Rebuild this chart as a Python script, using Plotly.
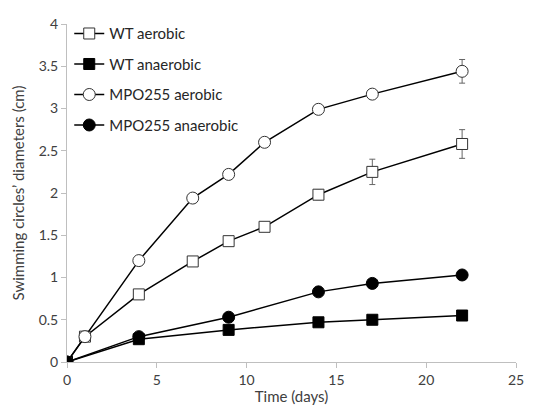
import plotly.graph_objects as go

wt_aer_x = [0, 1, 4, 7, 9, 11, 14, 17, 22]
wt_aer_y = [0, 0.30, 0.80, 1.19, 1.43, 1.60, 1.98, 2.25, 2.58]
wt_aer_err = [0, 0, 0, 0, 0, 0, 0.06, 0.15, 0.17]

wt_ana_x = [0, 4, 9, 14, 17, 22]
wt_ana_y = [0, 0.27, 0.38, 0.47, 0.50, 0.55]

mpo_aer_x = [0, 1, 4, 7, 9, 11, 14, 17, 22]
mpo_aer_y = [0, 0.30, 1.20, 1.94, 2.22, 2.60, 2.99, 3.17, 3.44]
mpo_aer_err = [0, 0, 0, 0, 0, 0, 0, 0, 0.14]

mpo_ana_x = [0, 4, 9, 14, 17, 22]
mpo_ana_y = [0, 0.30, 0.53, 0.83, 0.93, 1.03]

FONT = "Lato, Open Sans, Liberation Sans, sans-serif"
err_style = dict(type="data", visible=True, color="#666666", thickness=1, width=3)

fig = go.Figure()
fig.add_trace(go.Scatter(
    x=wt_aer_x, y=wt_aer_y, name="WT aerobic", legendgroup="a",
    mode="lines+markers", line=dict(color="black", width=1.5),
    marker=dict(symbol="square", size=11, color="white", line=dict(color="#333333", width=1)),
    error_y=dict(array=wt_aer_err, **err_style)))
fig.add_trace(go.Scatter(
    x=wt_ana_x, y=wt_ana_y, name="WT anaerobic", legendgroup="b",
    mode="lines+markers", line=dict(color="black", width=1.5),
    marker=dict(symbol="square", size=11, color="black", line=dict(color="black", width=1))))
fig.add_trace(go.Scatter(
    x=mpo_aer_x, y=mpo_aer_y, name="MPO255 aerobic", legendgroup="c",
    mode="lines+markers", line=dict(color="black", width=1.5),
    marker=dict(symbol="circle", size=12, color="white", line=dict(color="#333333", width=1)),
    error_y=dict(array=mpo_aer_err, **err_style)))
fig.add_trace(go.Scatter(
    x=mpo_ana_x, y=mpo_ana_y, name="MPO255 anaerobic", legendgroup="d",
    mode="lines+markers", line=dict(color="black", width=1.5),
    marker=dict(symbol="circle", size=12, color="black", line=dict(color="black", width=1))))

axis_common = dict(showgrid=False, zeroline=False, showline=True, linecolor="#bfbfbf",
                   linewidth=1, ticks="outside", tickcolor="#bfbfbf", ticklen=5,
                   automargin=False,
                   tickfont=dict(family=FONT, size=14, color="#404040"))

# page body adds an 8px offset; figure sized so the plot area lands where the reference has it
fig.update_layout(
    width=546, height=399,
    margin=dict(l=59, r=38, t=9, b=45),
    paper_bgcolor="white", plot_bgcolor="white",
    font=dict(family=FONT, color="#404040"),
    showlegend=True,
    legend=dict(x=0.005, y=1.02, xanchor="left", yanchor="top",
                font=dict(family=FONT, size=15, color="#262626"),
                bgcolor="rgba(0,0,0,0)", tracegroupgap=8, itemwidth=30),
    xaxis=dict(range=[0, 25], dtick=5, tick0=0,
               title=dict(text="Time (days)", font=dict(family=FONT, size=15, color="#404040"), standoff=4),
               **axis_common),
    yaxis=dict(range=[0, 4], dtick=0.5, tick0=0,
               title=dict(text="Swimming circles’ diameters (cm)", font=dict(family=FONT, size=15, color="#404040"), standoff=10),
               **axis_common),
)

fig.write_html("out.html")
